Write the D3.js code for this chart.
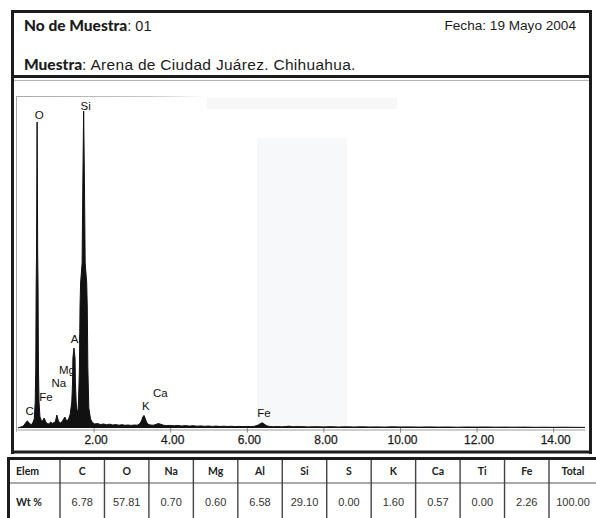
<!DOCTYPE html>
<html>
<head>
<meta charset="utf-8">
<script src="https://cdn.jsdelivr.net/npm/d3@7"></script>
<style>
  html, body { margin: 0; padding: 0; background: #fff; }
  svg { display: block; }
</style>
</head>
<body>
<svg id="chart" width="596" height="518"></svg>
<script>
// EDS spectrum: energy (keV) vs counts
const spectrum = [
  [0.02, 0], [0.08, 8], [0.14, 15], [0.19, 30], [0.23, 55], [0.27, 70], [0.31, 55],
  [0.36, 35], [0.40, 40], [0.45, 90], [0.475, 250], [0.49, 600], [0.50, 1400],
  [0.51, 1750], [0.518, 2500], [0.525, 3060], [0.532, 2500], [0.54, 1750],
  [0.55, 1400], [0.56, 600], [0.575, 260], [0.60, 110], [0.65, 60], [0.68, 80],
  [0.71, 100], [0.74, 70], [0.78, 45], [0.83, 40], [0.88, 60], [0.92, 45],
  [0.96, 55], [1.00, 60], [1.04, 130], [1.08, 70], [1.13, 50], [1.18, 65],
  [1.22, 90], [1.25, 110], [1.29, 75], [1.34, 80], [1.39, 140], [1.43, 260],
  [1.45, 450], [1.46, 700], [1.487, 800], [1.515, 700], [1.525, 450], [1.545, 260],
  [1.57, 170], [1.60, 180], [1.63, 600], [1.645, 1200], [1.66, 1450], [1.70, 1650],
  [1.72, 2500], [1.74, 3170], [1.76, 2500], [1.78, 1650], [1.82, 1450],
  [1.835, 1200], [1.85, 600], [1.875, 200], [1.92, 90], [1.97, 55], [2.03, 40],
  [2.10, 45], [2.18, 35], [2.26, 40], [2.34, 32], [2.42, 38], [2.50, 30],
  [2.58, 34], [2.66, 28], [2.74, 33], [2.82, 27], [2.90, 30], [2.98, 26],
  [3.06, 30], [3.14, 28], [3.20, 40], [3.25, 70], [3.29, 115], [3.32, 125],
  [3.36, 80], [3.41, 40], [3.48, 30], [3.56, 28], [3.63, 36], [3.69, 45],
  [3.75, 38], [3.82, 28], [3.90, 24], [4.00, 26], [4.10, 22], [4.20, 25],
  [4.30, 20], [4.40, 24], [4.50, 19], [4.60, 23], [4.70, 18], [4.80, 21],
  [4.90, 17], [5.00, 20], [5.10, 16], [5.20, 19], [5.30, 15], [5.40, 18],
  [5.50, 15], [5.60, 17], [5.70, 14], [5.80, 16], [5.90, 14], [6.00, 16],
  [6.10, 14], [6.20, 17], [6.30, 30], [6.36, 45], [6.40, 52], [6.45, 40],
  [6.52, 22], [6.60, 15], [6.70, 13], [6.80, 15], [6.90, 12], [7.00, 14],
  [7.10, 18], [7.20, 13], [7.40, 14], [7.60, 11], [7.80, 13], [8.00, 11],
  [8.20, 13], [8.40, 10], [8.60, 12], [8.80, 10], [9.00, 12], [9.20, 10],
  [9.40, 11], [9.60, 9], [9.80, 12], [10.00, 10], [10.25, 11], [10.50, 9],
  [10.75, 11], [11.00, 9], [11.25, 10], [11.50, 8], [11.75, 10], [12.00, 9],
  [12.25, 10], [12.50, 8], [12.75, 9], [13.00, 8], [13.25, 9], [13.50, 7],
  [13.75, 8], [14.00, 7], [14.25, 8], [14.50, 7], [14.83, 6]
];

// Peak identifications: element, line energy (keV), count level of the label
const peakElements = ["C", "O", "Fe", "Na", "Mg", "Al", "Si", "K", "Ca", "Fe"];
const peakEnergies = [0.277, 0.525, 0.705, 1.041, 1.254, 1.487, 1.740, 3.313, 3.691, 6.398];
const peakLabelCounts = [170, 3130, 310, 450, 580, 890, 3220, 220, 350, 150];

const tickValues = [2, 4, 6, 8, 10, 12, 14];

// Quantification table
const elements = ["C", "O", "Na", "Mg", "Al", "Si", "S", "K", "Ca", "Ti", "Fe"];
const wtPercent = [6.78, 57.81, 0.70, 0.60, 6.58, 29.10, 0.00, 1.60, 0.57, 0.00, 2.26];
const totalWt = 100.00;

const sampleNo = "01";
const sampleName = "Arena de Ciudad Juárez. Chihuahua.";
const sampleDate = "19 Mayo 2004";

const svg = d3.select("#chart");
const ink = "#1c1c1c";
const sans = "'Liberation Sans', Arial, sans-serif";
const heavy = "Lato, 'DejaVu Sans', sans-serif";

svg.append("rect").attr("width", 596).attr("height", 518).attr("fill", "#fff");

// ---- spectrum plot ----
const x = d3.scaleLinear().domain([0, 14.83]).range([17, 585]);
const y = d3.scaleLinear().domain([0, 3300]).range([428, 98]);

// faint background panel
svg.append("rect").attr("x", 257).attr("y", 138).attr("width", 90).attr("height", 290)
  .attr("fill", "#f7f8fa");
svg.append("rect").attr("x", 207).attr("y", 98).attr("width", 190).attr("height", 11)
  .attr("fill", "#f7f7f8");

// inner plot frame
const fade = svg.append("defs").append("linearGradient").attr("id", "fade")
  .attr("x1", "0").attr("x2", "1");
fade.append("stop").attr("offset", "0").attr("stop-color", "#a8a8a8");
fade.append("stop").attr("offset", "0.7").attr("stop-color", "#c8c8c8");
fade.append("stop").attr("offset", "1").attr("stop-color", "#fff");
svg.append("rect").attr("x", 16).attr("y", 96).attr("width", 190).attr("height", 1)
  .attr("fill", "url(#fade)");
svg.append("line").attr("x1", 16.5).attr("x2", 16.5).attr("y1", 96).attr("y2", 432)
  .attr("stroke", "#aaa").attr("stroke-width", 1);

// x axis
const axis = svg.append("g").attr("transform", "translate(0,429.5)")
  .call(d3.axisBottom(x).tickValues(tickValues).tickFormat(d3.format(".2f"))
    .tickSize(3).tickSizeOuter(0));
axis.select(".domain").attr("stroke", "#9a9a9a");
axis.selectAll(".tick line").attr("stroke", "#888").attr("y1", -2);
axis.selectAll(".tick text").attr("y", 6).attr("dx", 2)
  .attr("font-family", sans).attr("font-size", 12).attr("fill", "#1a1a1a")
  .attr("stroke", "#1a1a1a").attr("stroke-width", 0.25);

// spectrum as filled trace
const area = d3.area().x(d => x(d[0])).y0(y(0)).y1(d => y(d[1]));
const line = d3.line().x(d => x(d[0])).y(d => y(d[1]));
svg.append("path").datum(spectrum).attr("d", area).attr("fill", "#111");
svg.append("path").datum(spectrum).attr("d", line).attr("fill", "none")
  .attr("stroke", "#111").attr("stroke-width", 1).attr("stroke-linejoin", "round");

// peak labels
svg.append("g").selectAll("text").data(peakElements).join("text")
  .attr("x", (d, i) => x(peakEnergies[i]) + 2)
  .attr("y", (d, i) => y(peakLabelCounts[i]))
  .attr("dy", "0.36em")
  .attr("text-anchor", "middle")
  .attr("font-family", sans).attr("font-size", 11.5).attr("fill", "#111")
  .text(d => d);

// ---- header and frames ----
const frame = svg.append("g").attr("fill", "none").attr("stroke", ink).attr("stroke-width", 3);
frame.append("line").attr("x1", 11).attr("x2", 592).attr("y1", 11.5).attr("y2", 11.5);
frame.append("line").attr("x1", 12.5).attr("x2", 12.5).attr("y1", 10).attr("y2", 454);
frame.append("line").attr("x1", 590.5).attr("x2", 590.5).attr("y1", 10).attr("y2", 454);
frame.append("line").attr("x1", 11).attr("x2", 592).attr("y1", 76.5).attr("y2", 76.5);
frame.append("line").attr("x1", 11).attr("x2", 592).attr("y1", 452).attr("y2", 452);
svg.append("line").attr("x1", 14).attr("x2", 589).attr("y1", 80.5).attr("y2", 80.5)
  .attr("stroke", "#b4b4b4").attr("stroke-width", 1);

const t1 = svg.append("text").attr("x", 24).attr("y", 31).attr("fill", ink);
t1.append("tspan").attr("font-family", heavy).attr("font-weight", 900).attr("font-size", 15.5)
  .text("No de Muestra");
t1.append("tspan").attr("font-family", sans).attr("font-size", 14.5).text(": " + sampleNo);

svg.append("text").attr("x", 576).attr("y", 30).attr("text-anchor", "end")
  .attr("font-family", sans).attr("font-size", 13.6).attr("fill", ink)
  .text("Fecha: " + sampleDate);

const t2 = svg.append("text").attr("x", 24).attr("y", 70).attr("fill", ink);
t2.append("tspan").attr("font-family", heavy).attr("font-weight", 900).attr("font-size", 15.5)
  .text("Muestra");
t2.append("tspan").attr("font-family", sans).attr("font-size", 15.5)
  .attr("letter-spacing", 0.3).text(": " + sampleName);

// ---- quantification table ----
const colX = d3.scaleBand().domain(elements).range([60, 549]);
const tableTop = 458.5, rowLine = 483, tableLeft = 8.5, tableRight = 600;
const tbl = svg.append("g");
tbl.append("line").attr("x1", 7).attr("x2", 596).attr("y1", tableTop).attr("y2", tableTop)
  .attr("stroke", ink).attr("stroke-width", 3);
tbl.append("line").attr("x1", tableLeft).attr("x2", tableLeft).attr("y1", 457).attr("y2", 518)
  .attr("stroke", ink).attr("stroke-width", 3);
tbl.append("line").attr("x1", 10).attr("x2", 596).attr("y1", rowLine).attr("y2", rowLine)
  .attr("stroke", "#555").attr("stroke-width", 1.2);
const vlines = [60].concat(elements.map(e => colX(e) + colX.bandwidth()));
tbl.selectAll("line.col").data(vlines).join("line").attr("class", "col")
  .attr("x1", d => d).attr("x2", d => d).attr("y1", 460).attr("y2", 518)
  .attr("stroke", "#444").attr("stroke-width", 1.4);

const headFont = "Lato, 'Open Sans', sans-serif";
tbl.append("text").attr("x", 16).attr("y", 475)
  .attr("font-family", headFont).attr("font-weight", 700).attr("font-size", 10.5)
  .attr("fill", "#222").text("Elem");
tbl.append("text").attr("x", 16).attr("y", 505.5)
  .attr("font-family", headFont).attr("font-weight", 700).attr("font-size", 10.5)
  .attr("fill", "#222").text("Wt %");
tbl.selectAll("text.el").data(elements).join("text").attr("class", "el")
  .attr("x", d => colX(d) + colX.bandwidth() / 2).attr("y", 475)
  .attr("text-anchor", "middle").attr("font-family", headFont).attr("font-weight", 700)
  .attr("font-size", 10.5).attr("fill", "#222").text(d => d);
tbl.selectAll("text.val").data(wtPercent).join("text").attr("class", "val")
  .attr("x", (d, i) => colX(elements[i]) + colX.bandwidth() / 2).attr("y", 506)
  .attr("text-anchor", "middle").attr("font-family", sans).attr("font-size", 11)
  .attr("fill", "#333").text(d => d3.format(".2f")(d));
tbl.append("text").attr("x", (549 + tableRight) / 2 - 1.5).attr("y", 475)
  .attr("text-anchor", "middle").attr("font-family", headFont).attr("font-weight", 700)
  .attr("font-size", 10.5).attr("fill", "#222").text("Total");
tbl.append("text").attr("x", (549 + tableRight) / 2 - 1.5).attr("y", 506)
  .attr("text-anchor", "middle").attr("font-family", sans).attr("font-size", 11)
  .attr("fill", "#333").text(d3.format(".2f")(totalWt));
</script>
</body>
</html>
